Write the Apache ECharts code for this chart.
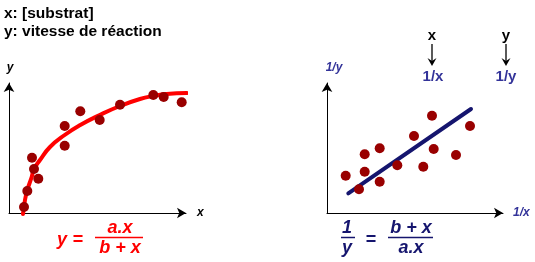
<!DOCTYPE html>
<html><head><meta charset="utf-8">
<script src="https://cdn.jsdelivr.net/npm/echarts@6/dist/echarts.min.js"></script>
<style>html,body{margin:0;padding:0;background:#fff}#c{width:535px;height:262px}</style>
</head><body><div id="c"></div>
<script>
// Left chart: y vs x (Michaelis-Menten style)
const leftPoints = [[15,6],[18.3,22],[23,55.3],[25,44],[29.3,34.3],[55.7,87],[55.7,67.3],[71.3,101.7],[90.7,93],[111,108.3],[144.3,118],[154.7,116],[172.7,110.7]];
const leftCurve = [[14,-1],[16,13],[18.3,23],[22.7,36],[25,44],[31,53],[41,66],[55.7,78],[71.3,88],[90.7,98],[111,107],[131,114],[144.3,117],[157.7,119],[177.7,120]];
// Right chart: 1/y vs 1/x (Lineweaver-Burk)
const rightPoints = [[18.7,37.3],[32,23.7],[37.7,58.7],[37.7,41.3],[52.7,64.7],[52.7,31.3],[70.3,47.7],[87,77],[96.3,46.3],[105,97.3],[106.7,64],[129,58],[143,87]];
const rightLine = [[21.3,19.7],[144,104]];
const titleLines = ['x: [substrat]', 'y: vitesse de réaction'];

const F = '"Liberation Sans", Arial, sans-serif';
const RED = '#ff0000', DOT = '#990000', NAVY = '#15156e', BLUE = '#333399';

function axis(gi, max){
  return {gridIndex: gi, type:'value', min:0, max:max, splitLine:{show:false}, axisTick:{show:false}, axisLabel:{show:false},
    axisLine:{show:true, symbol:['none','arrow'], symbolSize:[8,9], lineStyle:{color:'#000', width:1}}};
}
function txt(x,y,s,color,size,italic,align){
  return {type:'text', x:x, y:y, style:{text:s, fill:color, font:(italic?'italic ':'')+'bold '+size+'px '+F, align:align||'center', verticalAlign:'middle'}};
}
function hline(x1,x2,y,color){
  return {type:'line', shape:{x1:x1,y1:y,x2:x2,y2:y}, style:{stroke:color, lineWidth:1.5}};
}
function downArrow(x,y1,y2){
  return [{type:'line', shape:{x1:x,y1:y1,x2:x,y2:y2-4}, style:{stroke:'#000', lineWidth:1.3}},
          {type:'polygon', shape:{points:[[x-4.5,y2-8],[x,y2-5],[x+4.5,y2-8],[x,y2]]}, style:{fill:'#000'}}];
}

const chart = echarts.init(document.getElementById('c'), null, {renderer:'canvas'});
chart.setOption({
  animation:false,
  grid:[{left:9, top:83, width:177, height:130},{left:327, top:83, width:176, height:130}],
  xAxis:[axis(0,177), axis(1,176)],
  yAxis:[axis(0,130), axis(1,130)],
  series:[
    {type:'line', xAxisIndex:0, yAxisIndex:0, data:leftCurve, smooth:0.5, symbol:'none', clip:false, lineStyle:{color:RED, width:4, cap:'round'}, z:2},
    {type:'scatter', xAxisIndex:0, yAxisIndex:0, data:leftPoints, symbolSize:10, itemStyle:{color:DOT, opacity:1}, z:3},
    {type:'line', xAxisIndex:1, yAxisIndex:1, data:rightLine, symbol:'none', lineStyle:{color:NAVY, width:4, cap:'round'}, z:2},
    {type:'scatter', xAxisIndex:1, yAxisIndex:1, data:rightPoints, symbolSize:10, itemStyle:{color:DOT, opacity:1}, z:3}
  ],
  graphic:[
    txt(4,14,titleLines[0],'#000',15.5,false,'left'),
    txt(4,32,titleLines[1],'#000',15.5,false,'left'),
    txt(10,68,'y','#000',12,true),
    txt(197,213,'x','#000',12,true,'left'),
    txt(334,68,'1/y',BLUE,12,true),
    txt(513,213,'1/x',BLUE,12,true,'left'),
    txt(432,36,'x','#000',15,false),
    ...downArrow(432,44,66),
    txt(433,77,'1/x',BLUE,15,false),
    txt(506,36,'y','#000',15,false),
    ...downArrow(506,44,66),
    txt(506,77,'1/y',BLUE,15,false),
    // left formula
    txt(62,240,'y',RED,18,true),
    txt(78,240,'=',RED,18,false),
    txt(120,228,'a.x',RED,18,true),
    hline(95,143,237.5,RED),
    txt(120,248,'b + x',RED,18,true),
    // right formula
    txt(347,228,'1',NAVY,18,true),
    hline(341,355,237.5,NAVY),
    txt(347,248,'y',NAVY,18,true),
    txt(371,240,'=',NAVY,18,false),
    txt(411,228,'b + x',NAVY,18,true),
    hline(388,433,237.5,NAVY),
    txt(411,248,'a.x',NAVY,18,true)
  ]
});
</script></body></html>
